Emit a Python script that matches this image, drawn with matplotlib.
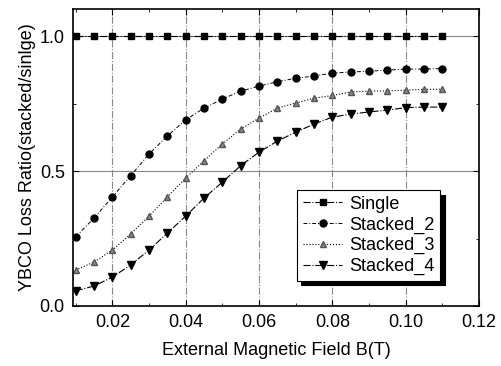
import numpy as np
import matplotlib
matplotlib.use('Agg')
import matplotlib.pyplot as plt
from matplotlib.ticker import MultipleLocator

plt.rcParams['font.family'] = ['Liberation Sans', 'DejaVu Sans']

# field values (T)
field = [0.010, 0.015, 0.020, 0.025, 0.030, 0.035, 0.040, 0.045, 0.050, 0.055, 0.060,
         0.065, 0.070, 0.075, 0.080, 0.085, 0.090, 0.095, 0.100, 0.105, 0.110]

single = [1.0] * 21
stacked_2 = [0.256, 0.326, 0.404, 0.483, 0.563, 0.630, 0.690, 0.733, 0.767, 0.796, 0.815,
             0.831, 0.844, 0.852, 0.863, 0.867, 0.870, 0.874, 0.878, 0.878, 0.880]
stacked_3 = [0.133, 0.163, 0.207, 0.267, 0.333, 0.404, 0.474, 0.538, 0.600, 0.656, 0.696,
             0.733, 0.752, 0.770, 0.780, 0.793, 0.796, 0.797, 0.800, 0.803, 0.803]
stacked_4 = [0.056, 0.074, 0.107, 0.152, 0.207, 0.270, 0.333, 0.400, 0.459, 0.520, 0.570,
             0.611, 0.644, 0.674, 0.700, 0.711, 0.719, 0.726, 0.735, 0.737, 0.737]

fig = plt.figure(figsize=(5.01, 3.66), dpi=100)
ax = fig.add_axes([0.146, 0.164, 0.810, 0.811])

ax.plot(field, single, ls='-.', lw=0.8, color='black', marker='s', ms=5, label='Single')
ax.plot(field, stacked_2, ls=(0, (4, 2, 1, 2)), lw=0.7, color='black', marker='o', ms=5,
        label='Stacked_2')
ax.plot(field, stacked_3, ls=':', lw=0.8, color='black', marker='^', ms=5,
        mfc='#888888', mec='#555555', label='Stacked_3')
ax.plot(field, stacked_4, ls='-.', lw=0.8, color='black', marker='v', ms=6, label='Stacked_4')

ax.set_xlim(0.0093, 0.12)
ax.set_ylim(0, 1.1)
ax.xaxis.set_major_locator(MultipleLocator(0.02))
ax.xaxis.set_minor_locator(MultipleLocator(0.01))
ax.yaxis.set_major_locator(MultipleLocator(0.5))
ax.yaxis.set_minor_locator(MultipleLocator(0.25))
ax.set_xticks([0.02, 0.04, 0.06, 0.08, 0.10, 0.12])
ax.set_xticklabels(['0.02', '0.04', '0.06', '0.08', '0.10', '0.12'])
ax.set_yticks([0.0, 0.5, 1.0])
ax.set_yticklabels(['0.0', '0.5', '1.0'])
ax.tick_params(which='both', direction='in', top=True, right=True, labelsize=13)
ax.tick_params(which='major', length=4, pad=6)
ax.tick_params(which='minor', length=2.5)

ax.grid(axis='x', color='#888888', ls='-.', lw=0.8)
ax.grid(axis='y', color='#888888', ls='-', lw=0.8)
for s in ax.spines.values():
    s.set_linewidth(1.2)

ax.set_xlabel('External Magnetic Field B(T)', fontsize=13, labelpad=8)
ax.set_ylabel('YBCO Loss Ratio(stacked/sinlge)', fontsize=13, labelpad=3)

leg = ax.legend(loc='lower left', bbox_to_anchor=(0.53, 0.055), fontsize=13,
                shadow={'color': 'black', 'alpha': 1, 'ox': 3, 'oy': -3},
                fancybox=False, edgecolor='black', framealpha=1,
                handlelength=2.2, handletextpad=0.4, borderpad=0.3, labelspacing=0.2)
leg.get_frame().set_linewidth(0.8)

fig.savefig('out.png', dpi=100)
